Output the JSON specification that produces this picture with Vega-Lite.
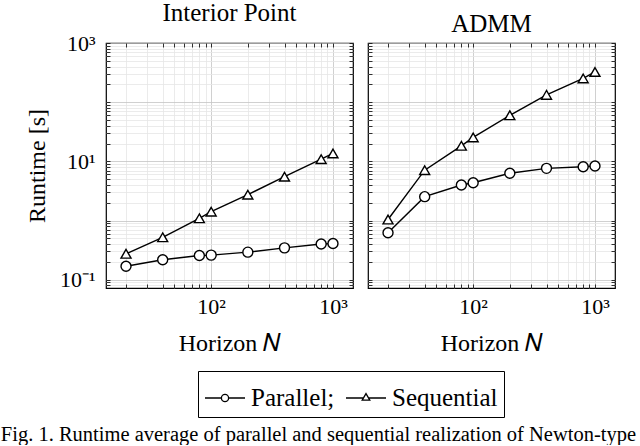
{
  "$schema": "https://vega.github.io/schema/vega-lite/v6.json",
  "padding": {"left": 0, "top": 0, "right": 0, "bottom": 0},
  "background": "white",
  "config": {
    "font": "Liberation Serif",
    "view": {"stroke": "black", "strokeWidth": 1.2},
    "title": {"font": "Liberation Serif", "fontWeight": "normal", "color": "black"},
    "style": {"guide-label": {"font": "Liberation Serif"}, "guide-title": {"font": "Liberation Serif"}},
    "axis": {
      "labelFont": "Liberation Serif", "titleFont": "Liberation Serif",
      "labelColor": "black", "titleColor": "black", "titleFontWeight": "normal",
      "labelFontSize": 22, "titleFontSize": 24, "domain": false,
      "tickColor": "black", "tickWidth": 0.8, "tickSize": -4,
      "labelFlush": false, "labelOverlap": false
    },
    "legend": {
      "labelFont": "Liberation Serif", "labelFontSize": 24, "labelColor": "black"
    }
  },
  "data": {"values": [
    {"method": "Interior Point", "series": "Parallel", "N": 20, "runtime": 0.169},
    {"method": "Interior Point", "series": "Parallel", "N": 40, "runtime": 0.217},
    {"method": "Interior Point", "series": "Parallel", "N": 80, "runtime": 0.256},
    {"method": "Interior Point", "series": "Parallel", "N": 100, "runtime": 0.26},
    {"method": "Interior Point", "series": "Parallel", "N": 200, "runtime": 0.292},
    {"method": "Interior Point", "series": "Parallel", "N": 400, "runtime": 0.345},
    {"method": "Interior Point", "series": "Parallel", "N": 800, "runtime": 0.40},
    {"method": "Interior Point", "series": "Parallel", "N": 1000, "runtime": 0.41},
    {"method": "Interior Point", "series": "Sequential", "N": 20, "runtime": 0.274},
    {"method": "Interior Point", "series": "Sequential", "N": 40, "runtime": 0.52},
    {"method": "Interior Point", "series": "Sequential", "N": 80, "runtime": 1.09},
    {"method": "Interior Point", "series": "Sequential", "N": 100, "runtime": 1.41},
    {"method": "Interior Point", "series": "Sequential", "N": 200, "runtime": 2.74},
    {"method": "Interior Point", "series": "Sequential", "N": 400, "runtime": 5.5},
    {"method": "Interior Point", "series": "Sequential", "N": 800, "runtime": 10.9},
    {"method": "Interior Point", "series": "Sequential", "N": 1000, "runtime": 13.6},
    {"method": "ADMM", "series": "Parallel", "N": 20, "runtime": 0.62},
    {"method": "ADMM", "series": "Parallel", "N": 40, "runtime": 2.53},
    {"method": "ADMM", "series": "Parallel", "N": 80, "runtime": 3.98},
    {"method": "ADMM", "series": "Parallel", "N": 100, "runtime": 4.35},
    {"method": "ADMM", "series": "Parallel", "N": 200, "runtime": 6.28},
    {"method": "ADMM", "series": "Parallel", "N": 400, "runtime": 7.62},
    {"method": "ADMM", "series": "Parallel", "N": 800, "runtime": 8.1},
    {"method": "ADMM", "series": "Parallel", "N": 1000, "runtime": 8.33},
    {"method": "ADMM", "series": "Sequential", "N": 20, "runtime": 1.04},
    {"method": "ADMM", "series": "Sequential", "N": 40, "runtime": 7.1},
    {"method": "ADMM", "series": "Sequential", "N": 80, "runtime": 18.3},
    {"method": "ADMM", "series": "Sequential", "N": 100, "runtime": 25.4},
    {"method": "ADMM", "series": "Sequential", "N": 200, "runtime": 60},
    {"method": "ADMM", "series": "Sequential", "N": 400, "runtime": 133},
    {"method": "ADMM", "series": "Sequential", "N": 800, "runtime": 252},
    {"method": "ADMM", "series": "Sequential", "N": 1000, "runtime": 324}
  ]},
  "title": {
    "text": "Fig. 1.  Runtime average of parallel and sequential realization of Newton-type",
    "orient": "bottom", "anchor": "start", "fontSize": 20.5, "dx": -24, "offset": 7
  },
  "spacing": 13,
  "hconcat": [
    {
      "title": {"text": "Interior Point", "fontSize": 25, "offset": 6},
      "width": 247, "height": 245,
      "transform": [{"filter": {"field": "method", "equal": "Interior Point"}}],
      "resolve": {"axis": {"x": "independent", "y": "independent"}},
      "layer": [
        {
          "mark": {"type": "line", "color": "black", "strokeWidth": 1.4},
          "encoding": {
            "x": {"field": "N", "type": "quantitative",
              "scale": {"type": "log", "domain": [13.7, 1460], "nice": false},
              "axis": {"orient": "bottom", "title": "Horizon 𝑁", "titlePadding": 14,
                "labelFont": "Liberation Serif", "titleFont": "Liberation Serif",
                "values": [20,30,40,50,60,70,80,90,100,200,300,400,500,600,700,800,900,1000],
                "labelExpr": "datum.value == 100 ? '10²' : datum.value == 1000 ? '10³' : ''",
                "labelPadding": 12, "labelFontSize": 22,
                "gridColor": {"condition": {"test": "datum.value == 100 || datum.value == 1000", "value": "#c4c4c4"}, "value": "#e6e6e6"},
                "gridWidth": 0.8,
                "encode": {"labels": {"update": {"font": {"value": "Liberation Serif"}}},
                           "title": {"update": {"font": {"value": "Liberation Serif"}}}}}},
            "y": {"field": "runtime", "type": "quantitative",
              "scale": {"type": "log", "domain": [0.0724, 1000], "nice": false},
              "axis": {"orient": "left", "title": "Runtime [s]", "titlePadding": 10,
                "labelFont": "Liberation Serif", "titleFont": "Liberation Serif",
                "values": [0.08,0.09,0.1,0.2,0.3,0.4,0.5,0.6,0.7,0.8,0.9,1,2,3,4,5,6,7,8,9,10,20,30,40,50,60,70,80,90,100,200,300,400,500,600,700,800,900,1000],
                "labelExpr": "datum.value == 1000 ? '10³' : datum.value == 10 ? '10¹' : datum.value == 0.1 ? '10⁻¹' : ''",
                "labelPadding": 15, "labelFontSize": 22,
                "gridColor": {"condition": {"test": "datum.value == 0.1 || datum.value == 1 || datum.value == 10 || datum.value == 100 || datum.value == 1000", "value": "#c4c4c4"}, "value": "#e6e6e6"},
                "gridWidth": 0.8,
                "encode": {"labels": {"update": {"font": {"value": "Liberation Serif"}}},
                           "title": {"update": {"font": {"value": "Liberation Serif"}}}}}},
            "detail": {"field": "series"}
          }
        },
        {
          "transform": [{"filter": {"field": "series", "equal": "Parallel"}}],
          "mark": {"type": "point", "shape": "circle", "size": 100, "filled": false, "fill": "white", "fillOpacity": 1, "stroke": "black", "strokeWidth": 1.4, "opacity": 1},
          "encoding": {
            "x": {"field": "N", "type": "quantitative",
              "axis": {"orient": "top", "title": null, "labels": false, "grid": false,
                "values": [20,30,40,50,60,70,80,90,100,200,300,400,500,600,700,800,900,1000]}},
            "y": {"field": "runtime", "type": "quantitative",
              "axis": {"orient": "right", "title": null, "labels": false, "grid": false,
                "values": [0.08,0.09,0.1,0.2,0.3,0.4,0.5,0.6,0.7,0.8,0.9,1,2,3,4,5,6,7,8,9,10,20,30,40,50,60,70,80,90,100,200,300,400,500,600,700,800,900,1000]}}
          }
        },
        {
          "transform": [{"filter": {"field": "series", "equal": "Sequential"}}],
          "mark": {"type": "point", "shape": "triangle-up", "size": 100, "filled": false, "fill": "white", "fillOpacity": 1, "stroke": "black", "strokeWidth": 1.4, "opacity": 1},
          "encoding": {
            "x": {"field": "N", "type": "quantitative", "axis": null},
            "y": {"field": "runtime", "type": "quantitative", "axis": null}
          }
        },
        {
          "transform": [{"filter": {"field": "series", "equal": "none"}}],
          "mark": {"type": "point", "filled": false, "stroke": "black", "strokeWidth": 1.3, "opacity": 1},
          "encoding": {
            "x": {"field": "N", "type": "quantitative", "axis": null},
            "y": {"field": "runtime", "type": "quantitative", "axis": null},
            "shape": {"field": "series", "type": "nominal",
              "scale": {"domain": ["Parallel", "Sequential"],
                "range": ["M-1,0H-0.18M0.18,0H1M0.18,0A0.18,0.18,0,1,1,-0.18,0A0.18,0.18,0,1,1,0.18,0",
                          "M-1,0H-0.127M0.127,0H1M0,-0.22L0.19,0.11L-0.19,0.11Z"]},
              "legend": {"orient": "none", "legendX": 92, "legendY": 328, "direction": "horizontal",
                "title": null, "strokeColor": "black", "padding": 6, "symbolSize": 1600,
                "labelFont": "Liberation Serif", "labelFontSize": 25,
                "symbolStrokeWidth": 1.3, "symbolStrokeColor": "black", "symbolFillColor": "white",
                "symbolOpacity": 1, "labelOffset": 5, "columnPadding": 8,
                "labelExpr": "datum.label == 'Parallel' ? 'Parallel;' : datum.label",
                "encode": {"symbols": {"update": {
                  "stroke": {"value": "black"}, "fill": {"value": "white"},
                  "opacity": {"value": 1}, "strokeOpacity": {"value": 1}, "fillOpacity": {"value": 1},
                  "strokeWidth": {"value": 1.3}, "size": {"value": 1600}}},
                  "labels": {"update": {"font": {"value": "Liberation Serif"}}}}}}
          }
        }
      ]
    },
    {
      "title": {"text": "ADMM", "fontSize": 25, "offset": 6},
      "width": 247, "height": 245,
      "transform": [{"filter": {"field": "method", "equal": "ADMM"}}],
      "resolve": {"axis": {"x": "independent", "y": "independent"}},
      "layer": [
        {
          "mark": {"type": "line", "color": "black", "strokeWidth": 1.4},
          "encoding": {
            "x": {"field": "N", "type": "quantitative",
              "scale": {"type": "log", "domain": [13.7, 1460], "nice": false},
              "axis": {"orient": "bottom", "title": "Horizon 𝑁", "titlePadding": 14,
                "labelFont": "Liberation Serif", "titleFont": "Liberation Serif",
                "values": [20,30,40,50,60,70,80,90,100,200,300,400,500,600,700,800,900,1000],
                "labelExpr": "datum.value == 100 ? '10²' : datum.value == 1000 ? '10³' : ''",
                "labelPadding": 12, "labelFontSize": 22,
                "gridColor": {"condition": {"test": "datum.value == 100 || datum.value == 1000", "value": "#c4c4c4"}, "value": "#e6e6e6"},
                "gridWidth": 0.8,
                "encode": {"labels": {"update": {"font": {"value": "Liberation Serif"}}},
                           "title": {"update": {"font": {"value": "Liberation Serif"}}}}}},
            "y": {"field": "runtime", "type": "quantitative",
              "scale": {"type": "log", "domain": [0.0724, 1000], "nice": false},
              "axis": {"orient": "left", "title": null, "labels": false,
                "values": [0.08,0.09,0.1,0.2,0.3,0.4,0.5,0.6,0.7,0.8,0.9,1,2,3,4,5,6,7,8,9,10,20,30,40,50,60,70,80,90,100,200,300,400,500,600,700,800,900,1000],
                "gridColor": {"condition": {"test": "datum.value == 0.1 || datum.value == 1 || datum.value == 10 || datum.value == 100 || datum.value == 1000", "value": "#c4c4c4"}, "value": "#e6e6e6"},
                "gridWidth": 0.8}},
            "detail": {"field": "series"}
          }
        },
        {
          "transform": [{"filter": {"field": "series", "equal": "Parallel"}}],
          "mark": {"type": "point", "shape": "circle", "size": 100, "filled": false, "fill": "white", "fillOpacity": 1, "stroke": "black", "strokeWidth": 1.4, "opacity": 1},
          "encoding": {
            "x": {"field": "N", "type": "quantitative",
              "axis": {"orient": "top", "title": null, "labels": false, "grid": false,
                "values": [20,30,40,50,60,70,80,90,100,200,300,400,500,600,700,800,900,1000]}},
            "y": {"field": "runtime", "type": "quantitative",
              "axis": {"orient": "right", "title": null, "labels": false, "grid": false,
                "values": [0.08,0.09,0.1,0.2,0.3,0.4,0.5,0.6,0.7,0.8,0.9,1,2,3,4,5,6,7,8,9,10,20,30,40,50,60,70,80,90,100,200,300,400,500,600,700,800,900,1000]}}
          }
        },
        {
          "transform": [{"filter": {"field": "series", "equal": "Sequential"}}],
          "mark": {"type": "point", "shape": "triangle-up", "size": 100, "filled": false, "fill": "white", "fillOpacity": 1, "stroke": "black", "strokeWidth": 1.4, "opacity": 1},
          "encoding": {
            "x": {"field": "N", "type": "quantitative", "axis": null},
            "y": {"field": "runtime", "type": "quantitative", "axis": null}
          }
        }
      ]
    }
  ]
}
